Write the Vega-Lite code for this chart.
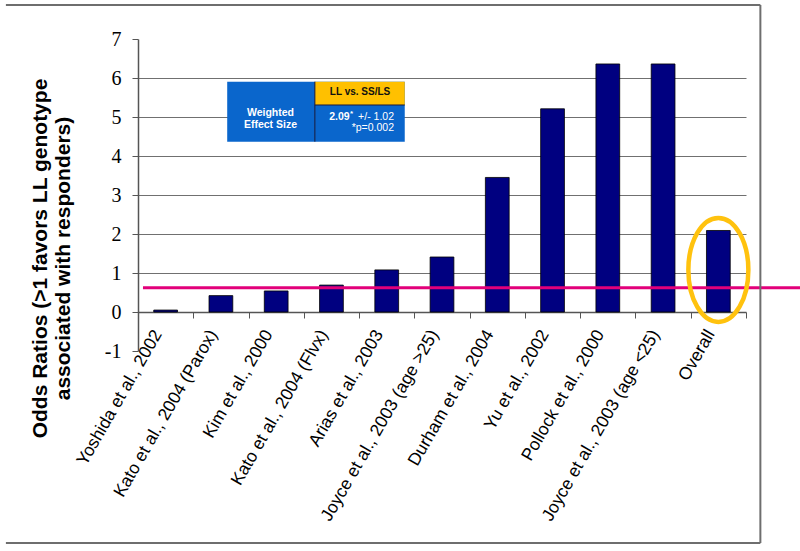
{
  "$schema": "https://vega.github.io/schema/vega-lite/v6.json",
  "width": 608,
  "height": 312,
  "autosize": {"type": "none"},
  "padding": {"left": 138, "top": 39, "right": 54, "bottom": 200},
  "background": "white",
  "config": {"view": {"stroke": null}},
  "layer": [
    {
      "data": {
        "values": [
          {"study": "Yoshida et al., 2002", "or": 0.05},
          {"study": "Kato et al., 2004 (Parox)", "or": 0.42},
          {"study": "Kim et al., 2000", "or": 0.54},
          {"study": "Kato et al., 2004 (Flvx)", "or": 0.69},
          {"study": "Arias et al., 2003", "or": 1.08},
          {"study": "Joyce et al., 2003 (age >25)", "or": 1.41},
          {"study": "Durham et al., 2004", "or": 3.45},
          {"study": "Yu et al., 2002", "or": 5.21},
          {"study": "Pollock et al., 2000", "or": 6.36},
          {"study": "Joyce et al., 2003 (age <25)", "or": 6.36},
          {"study": "Overall", "or": 2.09}
        ]
      },
      "mark": {"type": "bar", "color": "#000080", "stroke": "#000000", "strokeWidth": 0.8, "width": {"band": 0.43}},
      "encoding": {
        "x": {
          "field": "study", "type": "nominal", "sort": null,
          "scale": {"paddingInner": 0, "paddingOuter": 0},
          "axis": {
            "title": null, "orient": "bottom", "offset": -39,
            "labelAngle": -60, "labelAlign": "right", "labelBaseline": "middle",
            "labelFont": "Liberation Sans", "labelFontSize": 17.5, "labelColor": "#000000",
            "labelPadding": 13, "labelOffset": -8, "labelLimit": 0, "labelOverlap": false,
            "tickSize": 6, "tickBand": "extent",
            "tickColor": "#555555", "domainColor": "#555555", "domainWidth": 1.5, "grid": false
          }
        },
        "y": {
          "field": "or", "type": "quantitative",
          "scale": {"domain": [-1, 7], "nice": false, "zero": false},
          "axis": {
            "title": ["Odds Ratios (>1 favors LL genotype", "associated with responders)"],
            "values": [-1, 0, 1, 2, 3, 4, 5, 6, 7],
            "labelOverlap": false,
            "labelExpr": "'' + datum.value",
            "grid": true, "gridColor": "#707070",
            "gridOpacity": {"condition": {"test": "datum.value >= 1 && datum.value <= 6", "value": 1}, "value": 0},
            "labelFont": "Liberation Serif", "labelFontSize": 20, "labelColor": "#000000",
            "labelPadding": 11, "tickSize": 6, "tickColor": "#555555",
            "domainColor": "#555555", "domainWidth": 1.5,
            "titleFont": "Liberation Sans", "titleFontSize": 21, "titleFontWeight": "bold",
            "titleColor": "#000000", "titleX": -109, "titleY": 219, "titleAngle": -90,
            "titleBaseline": "top", "titleAlign": "center", "titleLineHeight": 23
          }
        },
        "y2": {"datum": 0}
      }
    },
    {
      "data": {"values": [{}]},
      "layer": [
        {
          "mark": {"type": "rect", "color": "#0A66CC"},
          "encoding": {
            "x": {"datum": 1.614, "type": "quantitative", "scale": {"domain": [0, 11]}, "axis": null},
            "x2": {"datum": 4.826},
            "y": {"datum": 5.905, "type": "quantitative", "scale": {"domain": [-1, 7]}, "axis": null},
            "y2": {"datum": 4.367}
          }
        },
        {
          "mark": {"type": "rect", "color": "#FFC000"},
          "encoding": {
            "x": {"datum": 3.2, "type": "quantitative", "scale": {"domain": [0, 11]}, "axis": null},
            "x2": {"datum": 4.826},
            "y": {"datum": 5.905, "type": "quantitative", "scale": {"domain": [-1, 7]}, "axis": null},
            "y2": {"datum": 5.308}
          }
        },
        {
          "mark": {"type": "rule", "color": "#1a1a3a", "strokeWidth": 1},
          "encoding": {
            "x": {"datum": 3.2, "type": "quantitative", "scale": {"domain": [0, 11]}, "axis": null},
            "y": {"datum": 5.905, "type": "quantitative", "scale": {"domain": [-1, 7]}, "axis": null},
            "y2": {"datum": 4.367}
          }
        },
        {
          "mark": {"type": "rule", "color": "#1a1a3a", "strokeWidth": 1},
          "encoding": {
            "x": {"datum": 3.2, "type": "quantitative", "scale": {"domain": [0, 11]}, "axis": null},
            "x2": {"datum": 4.826},
            "y": {"datum": 5.308, "type": "quantitative", "scale": {"domain": [-1, 7]}, "axis": null}
          }
        },
        {
          "mark": {"type": "text", "text": "LL vs. SS/LS", "font": "Liberation Sans", "fontSize": 10, "fontWeight": "bold", "color": "#111111", "align": "center", "baseline": "middle"},
          "encoding": {
            "x": {"datum": 4.017, "type": "quantitative", "scale": {"domain": [0, 11]}, "axis": null},
            "y": {"datum": 5.64, "type": "quantitative", "scale": {"domain": [-1, 7]}, "axis": null}
          }
        },
        {
          "mark": {"type": "text", "text": ["Weighted", "Effect Size"], "font": "Liberation Sans", "fontSize": 10.5, "fontWeight": "bold", "color": "#FFFFFF", "align": "center", "baseline": "middle", "lineHeight": 12},
          "encoding": {
            "x": {"datum": 2.397, "type": "quantitative", "scale": {"domain": [0, 11]}, "axis": null},
            "y": {"datum": 5.115, "type": "quantitative", "scale": {"domain": [-1, 7]}, "axis": null}
          }
        },
        {
          "mark": {"type": "text", "text": "2.09", "font": "Liberation Sans", "fontSize": 10.5, "fontWeight": "bold", "color": "#FFFFFF", "align": "right", "baseline": "alphabetic"},
          "encoding": {
            "x": {"datum": 3.83, "type": "quantitative", "scale": {"domain": [0, 11]}, "axis": null},
            "y": {"datum": 4.923, "type": "quantitative", "scale": {"domain": [-1, 7]}, "axis": null}
          }
        },
        {
          "mark": {"type": "text", "text": "*", "font": "Liberation Sans", "fontSize": 8, "fontWeight": "bold", "color": "#FFFFFF", "align": "left", "baseline": "alphabetic"},
          "encoding": {
            "x": {"datum": 3.835, "type": "quantitative", "scale": {"domain": [0, 11]}, "axis": null},
            "y": {"datum": 5.03, "type": "quantitative", "scale": {"domain": [-1, 7]}, "axis": null}
          }
        },
        {
          "mark": {"type": "text", "text": "+/- 1.02", "font": "Liberation Sans", "fontSize": 10.5, "color": "#FFFFFF", "align": "right", "baseline": "alphabetic"},
          "encoding": {
            "x": {"datum": 4.632, "type": "quantitative", "scale": {"domain": [0, 11]}, "axis": null},
            "y": {"datum": 4.923, "type": "quantitative", "scale": {"domain": [-1, 7]}, "axis": null}
          }
        },
        {
          "mark": {"type": "text", "text": "*p=0.002", "font": "Liberation Sans", "fontSize": 10.5, "color": "#FFFFFF", "align": "right", "baseline": "alphabetic"},
          "encoding": {
            "x": {"datum": 4.632, "type": "quantitative", "scale": {"domain": [0, 11]}, "axis": null},
            "y": {"datum": 4.641, "type": "quantitative", "scale": {"domain": [-1, 7]}, "axis": null}
          }
        },
        {
          "mark": {"type": "rule", "color": "#E2007A", "strokeWidth": 3},
          "encoding": {
            "x": {"datum": 0.09, "type": "quantitative", "scale": {"domain": [0, 11]}, "axis": null},
            "x2": {"datum": 12},
            "y": {"datum": 0.62, "type": "quantitative", "scale": {"domain": [-1, 7]}, "axis": null}
          }
        },
        {
          "mark": {"type": "point", "filled": false, "shape": "M -0.577 0 A 0.577 1 0 1 1 0.577 0 A 0.577 1 0 1 1 -0.577 0 Z", "size": 10816, "stroke": "#FFC20E", "strokeWidth": 4.5, "opacity": 1},
          "encoding": {
            "x": {"datum": 10.5, "type": "quantitative", "scale": {"domain": [0, 11]}, "axis": null},
            "y": {"datum": 1.08, "type": "quantitative", "scale": {"domain": [-1, 7]}, "axis": null}
          }
        },
        {
          "mark": {"type": "rule", "color": "#6e6e6e", "strokeWidth": 2},
          "encoding": {
            "x": {"datum": -2.39, "type": "quantitative", "scale": {"domain": [0, 11]}, "axis": null},
            "x2": {"datum": 11.26},
            "y": {"datum": 7.872, "type": "quantitative", "scale": {"domain": [-1, 7]}, "axis": null}
          }
        },
        {
          "mark": {"type": "rule", "color": "#6e6e6e", "strokeWidth": 2},
          "encoding": {
            "x": {"datum": -2.39, "type": "quantitative", "scale": {"domain": [0, 11]}, "axis": null},
            "x2": {"datum": 11.26},
            "y": {"datum": -5.923, "type": "quantitative", "scale": {"domain": [-1, 7]}, "axis": null}
          }
        },
        {
          "mark": {"type": "rule", "color": "#6e6e6e", "strokeWidth": 2},
          "encoding": {
            "x": {"datum": 11.26, "type": "quantitative", "scale": {"domain": [0, 11]}, "axis": null},
            "y": {"datum": 7.872, "type": "quantitative", "scale": {"domain": [-1, 7]}, "axis": null},
            "y2": {"datum": -5.923}
          }
        }
      ]
    }
  ],
  "resolve": {"scale": {"x": "independent", "y": "independent"}}
}
